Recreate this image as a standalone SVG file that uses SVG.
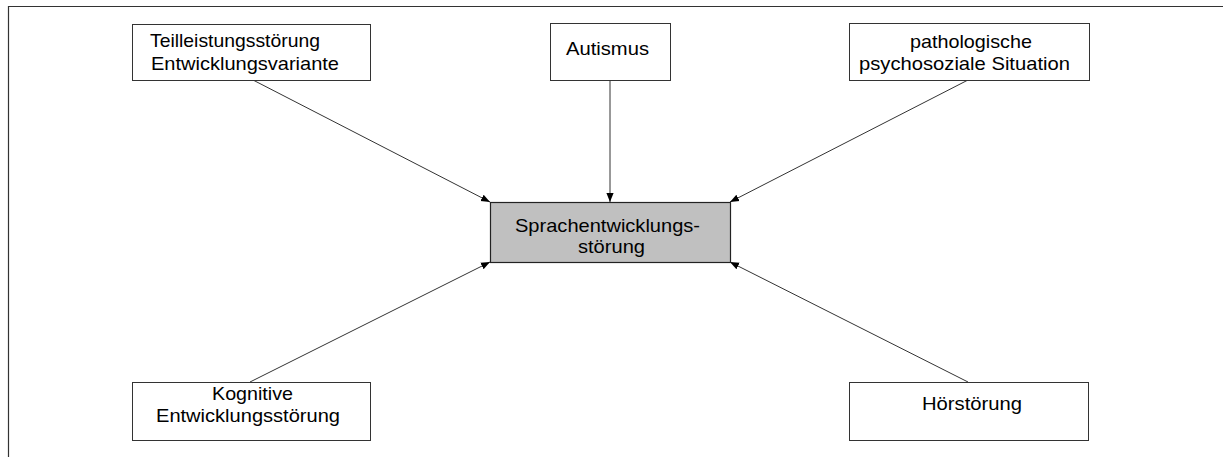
<svg xmlns="http://www.w3.org/2000/svg" width="1223" height="457" viewBox="0 0 1223 457">
<style>
.box{fill:#fff;stroke:#333;stroke-width:1}
.main{fill:#c0c0c0;stroke:#222;stroke-width:1.2}
text{font-family:"Liberation Sans",Arial,sans-serif;font-size:19px;fill:#000}
.con{stroke:#333;stroke-width:1;fill:none;marker-end:url(#ah)}
</style>
<defs>
<marker id="ah" viewBox="0 0 10 10" refX="10" refY="5" markerWidth="9" markerHeight="9" markerUnits="userSpaceOnUse" orient="auto">
<path d="M0,1 L10,5 L0,9 Z" fill="#000"/>
</marker>
</defs>
<rect width="1223" height="457" fill="#fff"/>
<path d="M8.5,457 V6.5 H1223" fill="none" stroke="#333" stroke-width="1.2"/>
<g id="connectors">
<line class="con" x1="253" y1="80" x2="490" y2="202"/>
<line class="con" x1="610" y1="80" x2="610" y2="202"/>
<line class="con" x1="968" y1="80" x2="730" y2="202"/>
<line class="con" x1="250" y1="382" x2="490" y2="262"/>
<line class="con" x1="968" y1="382" x2="730" y2="262"/>
</g>
<g id="n1">
<rect class="box" x="132.5" y="24.5" width="238" height="56"/>
<text x="150" y="47" textLength="170" lengthAdjust="spacingAndGlyphs">Teilleistungsstörung</text>
<text x="151" y="70" textLength="188" lengthAdjust="spacingAndGlyphs">Entwicklungsvariante</text>
</g>
<g id="n2">
<rect class="box" x="550.5" y="23.5" width="120" height="57"/>
<text x="566" y="55" textLength="83" lengthAdjust="spacingAndGlyphs">Autismus</text>
</g>
<g id="n3">
<rect class="box" x="849.5" y="23.5" width="240" height="57"/>
<text x="910" y="48" textLength="122" lengthAdjust="spacingAndGlyphs">pathologische</text>
<text x="859" y="70" textLength="211" lengthAdjust="spacingAndGlyphs">psychosoziale Situation</text>
</g>
<g id="center">
<rect class="main" x="490.5" y="202.5" width="240" height="60"/>
<text x="515" y="232" textLength="185" lengthAdjust="spacingAndGlyphs">Sprachentwicklungs-</text>
<text x="578" y="253" textLength="67" lengthAdjust="spacingAndGlyphs">störung</text>
</g>
<g id="n5">
<rect class="box" x="132.5" y="382.5" width="238" height="58"/>
<text x="212" y="400" textLength="81" lengthAdjust="spacingAndGlyphs">Kognitive</text>
<text x="156" y="422" textLength="184" lengthAdjust="spacingAndGlyphs">Entwicklungsstörung</text>
</g>
<g id="n6">
<rect class="box" x="849.5" y="382.5" width="239" height="58"/>
<text x="922" y="410" textLength="100" lengthAdjust="spacingAndGlyphs">Hörstörung</text>
</g>
</svg>
